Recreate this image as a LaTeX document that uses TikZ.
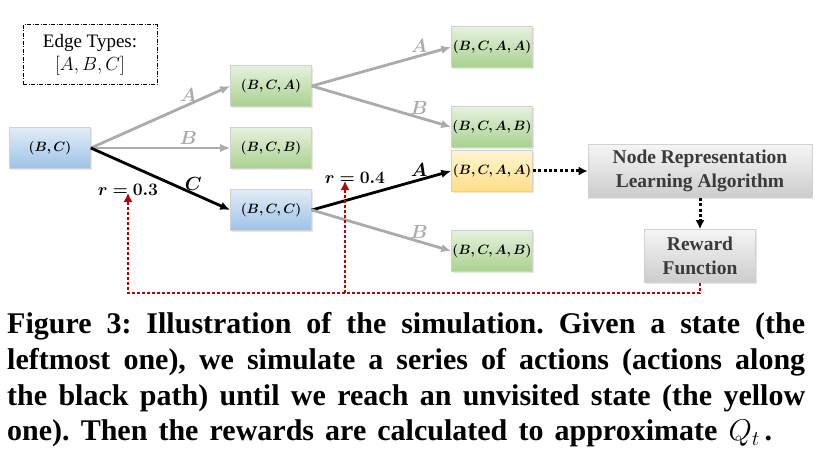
\RequirePackage{fix-cm}
\documentclass[tikz,border=0pt]{standalone}
\usepackage{fontspec}
\setmainfont{Liberation Serif}
\usepackage{bm}
\usetikzlibrary{arrows.meta,shadows}
\definecolor{edgegrey}{HTML}{ABABAB}
\definecolor{redpath}{HTML}{C00000}
\definecolor{boxtext}{HTML}{3A3A3A}
\definecolor{bluetop}{HTML}{E1ECF9}
\definecolor{bluebot}{HTML}{9DC3E6}
\definecolor{greentop}{HTML}{E5F1DC}
\definecolor{greenbot}{HTML}{A9D18E}
\definecolor{yellowtop}{HTML}{FFF4CF}
\definecolor{yellowbot}{HTML}{FFDF86}
\begin{document}
\begin{tikzpicture}[x=1pt,y=-1pt,
  state/.style={draw=black!18,line width=0.6pt,minimum width=81pt,minimum height=41pt,inner sep=0pt,
    font=\fontsize{13.5}{16}\selectfont,drop shadow={opacity=0.2,shadow xshift=1.2pt,shadow yshift=-1.2pt}},
  bluestate/.style={state,top color=bluetop,bottom color=bluebot},
  greenstate/.style={state,top color=greentop,bottom color=greenbot},
  yellowstate/.style={state,top color=yellowtop,bottom color=yellowbot},
  procbox/.style={draw=black!18,line width=0.6pt,minimum height=53pt,inner sep=0pt,align=center,
    text=boxtext,font=\fontsize{19.5}{24}\selectfont\bfseries,top color=black!4,bottom color=black!20,
    drop shadow={opacity=0.2,shadow xshift=1.2pt,shadow yshift=-1.2pt}},
  greyedge/.style={draw=edgegrey,line width=2.8pt,-{Latex[length=10pt,width=8.5pt]}},
  pathedge/.style={draw=black,line width=2.8pt,-{Latex[length=10pt,width=8.5pt]}},
  greylbl/.style={text=edgegrey,font=\fontsize{19}{21}\selectfont,inner sep=1pt},
  pathlbl/.style={text=black,font=\fontsize{19}{21}\selectfont,inner sep=1pt},
  rlbl/.style={font=\fontsize{17.5}{20}\selectfont,inner sep=0pt},
  flowdot/.style={draw=black,line width=3pt,dash pattern=on 3pt off 2.4pt,-{Latex[length=9pt,width=9pt]}},
  rewarddot/.style={draw=redpath,line width=2.8pt,dash pattern=on 2.8pt off 2.2pt,-{Latex[length=9pt,width=9pt]}},
  capline/.style={anchor=base west,inner sep=0pt,font=\fontsize{30}{35}\selectfont\bfseries\frenchspacing}]
\useasboundingbox (0,0) rectangle (825,457);
% legend
\node[draw,line width=1pt,dash pattern=on 4pt off 1.5pt on 1pt off 1.5pt,minimum width=134pt,minimum height=60pt,
  align=center,font=\fontsize{19}{23}\selectfont] (types) at (90,55) {Edge Types:\\$[A,B,C]$};
% states
\node[bluestate] (s0) at (50,148) {$\bm{(B,C)}$};
\node[greenstate] (s1) at (271,86) {$\bm{(B,C,A)}$};
\node[greenstate] (s2) at (271,148) {$\bm{(B,C,B)}$};
\node[bluestate] (s3) at (271,210) {$\bm{(B,C,C)}$};
\node[greenstate] (s4) at (492,47) {$\bm{(B,C,A,A)}$};
\node[greenstate] (s5) at (492,127) {$\bm{(B,C,A,B)}$};
\node[yellowstate] (s6) at (492,171) {$\bm{(B,C,A,A)}$};
\node[greenstate] (s7) at (492,251) {$\bm{(B,C,A,B)}$};
% learning and reward
\node[procbox,minimum width=224pt] (learn) at (700,171) {Node Representation\\Learning Algorithm};
\node[procbox,minimum width=111pt] (reward) at (700,256) {Reward\\Function};
% actions
\draw[greyedge] (s0.east) -- node[greylbl,pos=0.7,above=1pt] (la) {$\bm{A}$} (s1.west);
\draw[greyedge] (s0.east) -- node[greylbl,pos=0.7,above=1pt] (lb) {$\bm{B}$} (s2.west);
\draw[pathedge] (s0.east) -- node[pathlbl,pos=0.68,above right=-3pt] (lc) {$\bm{C}$} (s3.west);
\draw[greyedge] (s1.east) -- node[greylbl,pos=0.77,above=1pt] (laa) {$\bm{A}$} (s4.west);
\draw[greyedge] (s1.east) -- node[greylbl,pos=0.77,above=1pt] (lab) {$\bm{B}$} (s5.west);
\draw[pathedge] (s3.east) -- node[pathlbl,pos=0.77,above=1pt] (lca) {$\bm{A}$} (s6.west);
\draw[greyedge] (s3.east) -- node[greylbl,pos=0.77,above=1pt] (lcb) {$\bm{B}$} (s7.west);
\node[rlbl] (r1) at (128,190) {$\bm{r=0.3}$};
\node[rlbl] (r2) at (355,178) {$\bm{r=0.4}$};
% evaluation
\draw[flowdot] (s6.east) -- (learn.west);
\draw[flowdot] (learn.south) -- (reward.north);
\coordinate (back) at (700,293);
\coordinate (split) at (345,293);
\draw[rewarddot] (reward.south) -- (back) -| ([yshift=3pt]r1.south);
\draw[rewarddot] (split) -- ([yshift=3pt]r2.south -| split);
% caption
\node[capline] (cap1) at (7,334) {\makebox[798pt][s]{Figure 3: Illustration of the simulation. Given a state (the}};
\node[capline] (cap2) at (7,369.5) {\makebox[798pt][s]{leftmost one), we simulate a series of actions (actions along}};
\node[capline] (cap3) at (7,405) {\makebox[798pt][s]{the black path) until we reach an unvisited state (the yellow}};
\node[capline] (cap4) at (7,440.5) {\makebox[765pt][s]{one). Then the rewards are calculated to approximate $Q_t$\,.}};
\end{tikzpicture}
\end{document}
